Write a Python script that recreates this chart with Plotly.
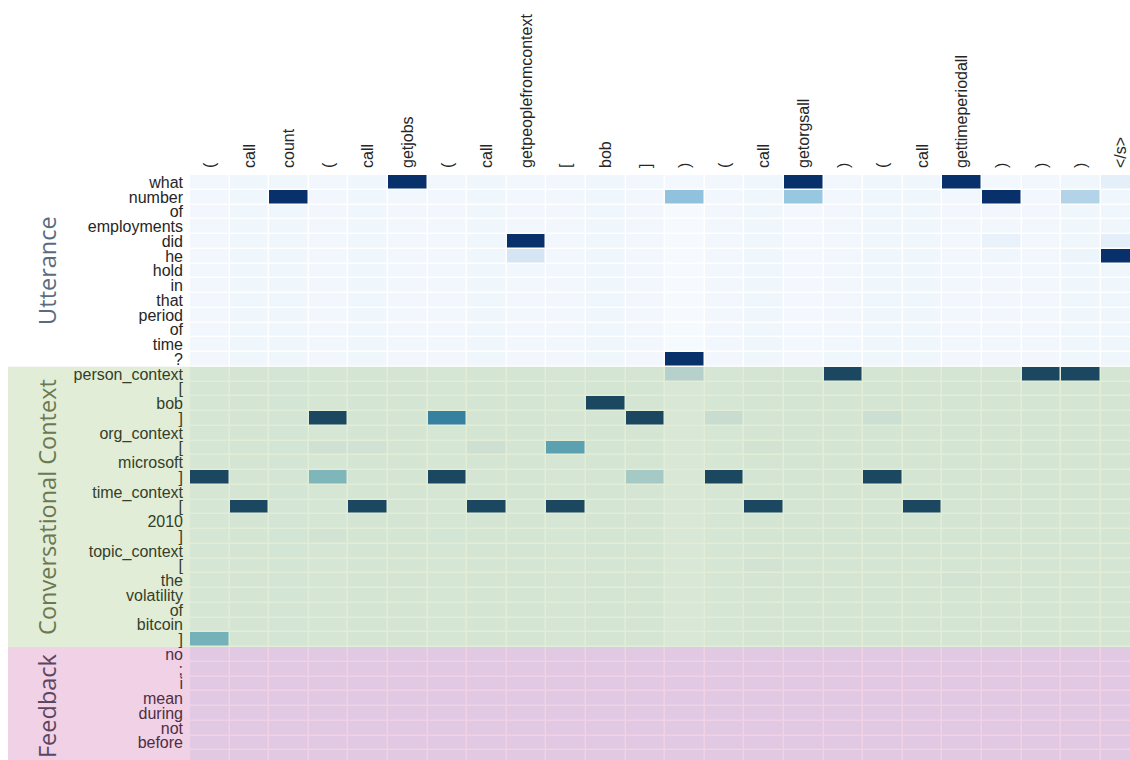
import plotly.graph_objects as go

# ---------------- data ----------------
x_tokens = ["(", "call", "count", "(", "call", "getjobs", "(", "call",
            "getpeoplefromcontext", "[", "bob", "]", ")", "(", "call",
            "getorgsall", ")", "(", "call", "gettimeperiodall", ")", ")", ")", "</s>"]

utterance_tokens = ["what", "number", "of", "employments", "did", "he", "hold",
                    "in", "that", "period", "of", "time", "?"]
context_tokens = ["person_context", "[", "bob", "]", "org_context", "[", "microsoft",
                  "]", "time_context", "[", "2010", "]", "topic_context", "[", "the",
                  "volatility", "of", "bitcoin", "]"]
feedback_tokens = ["no", ";", "i", "mean", "during", "not", "before", ""]

utterance_attn = [
    [.03, .04, .04, .03, .04, 1.0, .03, .04, .03, .03, .04, .03, .02, .03, .04, 1.0, .03, .04, .04, 1.0, .02, .03, .04, .09],
    [.03, .04, 1.0, .03, .04, .03, .03, .04, .03, .03, .04, .03, .41, .03, .04, .39, .03, .04, .04, .03, 1.0, .03, .31, .04],
    [.03, .04, .04, .03, .04, .03, .03, .04, .03, .03, .04, .03, .01, .03, .04, .02, .03, .04, .04, .03, .03, .03, .04, .04],
    [.03, .04, .04, .03, .04, .03, .03, .04, .03, .03, .04, .03, .01, .03, .04, .02, .03, .04, .04, .03, .03, .03, .04, .04],
    [.03, .04, .04, .03, .04, .03, .03, .04, 1.0, .03, .04, .03, .01, .03, .04, .02, .03, .04, .04, .03, .07, .03, .04, .09],
    [.03, .04, .04, .03, .04, .03, .03, .04, .17, .03, .04, .03, .01, .03, .04, .02, .03, .04, .04, .03, .04, .03, .05, 1.0],
    [.03, .04, .04, .03, .04, .03, .03, .04, .03, .03, .04, .03, .01, .03, .04, .02, .03, .04, .04, .03, .03, .03, .04, .04],
    [.03, .04, .04, .03, .04, .03, .03, .04, .03, .03, .04, .03, .01, .03, .04, .02, .03, .04, .04, .03, .03, .03, .04, .04],
    [.03, .04, .04, .03, .04, .03, .03, .04, .03, .03, .04, .03, .01, .03, .04, .02, .03, .04, .04, .03, .03, .03, .04, .04],
    [.03, .04, .04, .03, .04, .03, .03, .04, .03, .03, .04, .03, .01, .03, .04, .02, .03, .04, .04, .03, .03, .03, .04, .04],
    [.03, .04, .04, .03, .04, .03, .03, .04, .03, .03, .04, .03, .01, .03, .04, .02, .03, .04, .04, .03, .03, .03, .04, .04],
    [.03, .04, .04, .03, .04, .03, .03, .04, .03, .03, .04, .03, .01, .03, .04, .02, .03, .04, .04, .03, .03, .03, .04, .04],
    [.03, .04, .04, .03, .04, .03, .03, .04, .03, .03, .04, .03, 1.0, .03, .04, .02, .04, .04, .04, .03, .03, .03, .04, .04],
]

context_attn = [
    [.03, .04, .05, .03, .04, .04, .03, .04, .04, .03, .04, .04, .24, .03, .04, .04, 1.0, .04, .04, .04, .04, 1.0, 1.0, .04],
    [.03, .04, .05, .03, .04, .04, .03, .04, .04, .03, .04, .04, .02, .03, .04, .04, .04, .04, .04, .04, .04, .04, .04, .04],
    [.03, .04, .05, .03, .04, .04, .03, .04, .04, .03, 1.0, .04, .02, .03, .04, .04, .04, .04, .04, .04, .04, .04, .04, .04],
    [.03, .04, .05, 1.0, .04, .04, .72, .04, .04, .03, .04, 1.0, .02, .12, .04, .04, .04, .10, .04, .04, .04, .04, .04, .04],
    [.03, .04, .05, .03, .04, .04, .03, .04, .04, .03, .04, .04, .02, .03, .04, .04, .04, .04, .04, .04, .04, .04, .04, .04],
    [.03, .05, .05, .08, .07, .04, .03, .09, .04, .56, .04, .04, .02, .03, .06, .04, .04, .04, .04, .04, .04, .04, .04, .04],
    [.03, .04, .05, .03, .04, .04, .03, .04, .04, .03, .04, .04, .02, .03, .04, .04, .04, .04, .04, .04, .04, .04, .04, .04],
    [1.0, .04, .05, .44, .04, .04, 1.0, .04, .04, .03, .04, .31, .02, 1.0, .04, .04, .04, 1.0, .04, .04, .04, .04, .04, .04],
    [.03, .04, .05, .03, .04, .04, .03, .04, .04, .03, .04, .04, .02, .03, .04, .04, .04, .04, .04, .04, .04, .04, .04, .04],
    [.03, 1.0, .05, .03, 1.0, .04, .03, 1.0, .04, 1.0, .04, .04, .02, .03, 1.0, .04, .04, .04, 1.0, .04, .04, .04, .04, .04],
    [.03, .04, .05, .03, .04, .04, .03, .04, .04, .03, .04, .04, .02, .03, .04, .04, .04, .04, .04, .04, .04, .04, .04, .04],
    [.03, .04, .05, .06, .04, .04, .05, .04, .04, .03, .04, .04, .02, .03, .04, .04, .04, .04, .04, .04, .04, .04, .04, .04],
    [.03, .04, .05, .03, .04, .04, .03, .04, .04, .03, .04, .04, .02, .03, .04, .04, .04, .04, .04, .04, .04, .04, .04, .04],
    [.03, .04, .05, .03, .04, .04, .03, .04, .04, .03, .04, .04, .02, .03, .06, .04, .04, .04, .04, .04, .04, .04, .04, .04],
    [.03, .04, .05, .03, .04, .04, .03, .04, .04, .03, .04, .04, .02, .03, .04, .04, .04, .04, .04, .06, .04, .04, .04, .04],
    [.03, .04, .05, .03, .04, .04, .03, .04, .04, .03, .04, .04, .02, .03, .04, .04, .04, .04, .04, .04, .04, .04, .04, .04],
    [.03, .04, .05, .03, .04, .04, .03, .04, .04, .03, .04, .04, .02, .03, .04, .04, .04, .04, .04, .04, .04, .04, .04, .04],
    [.03, .04, .05, .03, .04, .04, .03, .04, .04, .03, .04, .04, .02, .03, .04, .04, .04, .04, .04, .04, .04, .04, .04, .04],
    [.47, .04, .05, .03, .04, .04, .03, .04, .04, .03, .04, .04, .02, .03, .04, .04, .04, .04, .04, .04, .04, .04, .04, .04],
]

feedback_attn = [[.05] * 24 for _ in feedback_tokens]

group_names = ["Utterance", "Conversational Context", "Feedback"]
group_colors = ["#5b6b7e", "#6b7850", "#5a4661"]

# ---------------- figure ----------------
blues = [[0.0, "rgb(247,251,255)"], [0.125, "rgb(222,235,247)"], [0.25, "rgb(198,219,239)"],
         [0.375, "rgb(158,202,225)"], [0.5, "rgb(107,174,214)"], [0.625, "rgb(66,146,198)"],
         [0.75, "rgb(33,113,181)"], [0.875, "rgb(8,81,156)"], [1.0, "rgb(8,48,107)"]]


def esc(t):
    return t.replace("&", "&amp;").replace("<", "&lt;").replace(">", "&gt;")


y_tokens = utterance_tokens + context_tokens + feedback_tokens
z = utterance_attn + context_attn + feedback_attn
n_u, n_c, n_f = len(utterance_tokens), len(context_tokens), len(feedback_tokens)

fig = go.Figure(go.Heatmap(
    z=z, x=list(range(len(x_tokens))), y=list(range(len(y_tokens))),
    colorscale=blues, zmin=0, zmax=1, showscale=False,
    xgap=1.5, ygap=1.5, hoverinfo="skip"))

tick_font = dict(family="Liberation Sans, Arial, sans-serif", size=16, color="#262626")

fig.update_layout(
    width=1130, height=760,
    margin=dict(l=190, r=0, t=175, b=0, pad=0),
    paper_bgcolor="white", plot_bgcolor="white",
    showlegend=False,
    xaxis=dict(side="top", tickmode="array", tickvals=list(range(len(x_tokens))),
               ticktext=[esc(t) for t in x_tokens], tickangle=-90, range=[-0.5, 23.24],
               showgrid=False, zeroline=False, showline=False, ticks="",
               ticklabelstandoff=6, ticklabeloverflow="allow", tickfont=tick_font),
    yaxis=dict(tickmode="array", tickvals=list(range(len(y_tokens))),
               ticktext=[esc(t) for t in y_tokens], range=[39.16, -0.5],
               showgrid=False, zeroline=False, showline=False, ticks="",
               ticklabelstandoff=6, ticklabeloverflow="allow", tickfont=tick_font),
)

x_left = (8 - 190) / 940
bands = [
    (n_u - 0.5, n_u + n_c - 0.5, "rgba(110,165,55,0.2)"),
    (n_u + n_c - 0.5, n_u + n_c + n_f - 0.5, "rgba(195,70,150,0.25)"),
]
for y0, y1, col in bands:
    fig.add_shape(type="rect", xref="paper", yref="y", x0=x_left, x1=1.02,
                  y0=y0, y1=y1, fillcolor=col, line=dict(width=0), layer="above")

centers = [(n_u - 1) / 2, n_u + (n_c - 1) / 2, n_u + n_c - 0.5 + n_f / 2]
for name, col, yc in zip(group_names, group_colors, centers):
    fig.add_annotation(text=name, xref="paper", yref="y", x=(47 - 190) / 940, y=yc,
                       xanchor="center", yanchor="middle", textangle=-90, showarrow=False,
                       font=dict(family="Open Sans, sans-serif", size=23.5, color=col))

fig.write_html("out.html", config={"displayModeBar": False},
               post_script="document.body.style.margin='0';document.body.style.overflow='hidden';")
